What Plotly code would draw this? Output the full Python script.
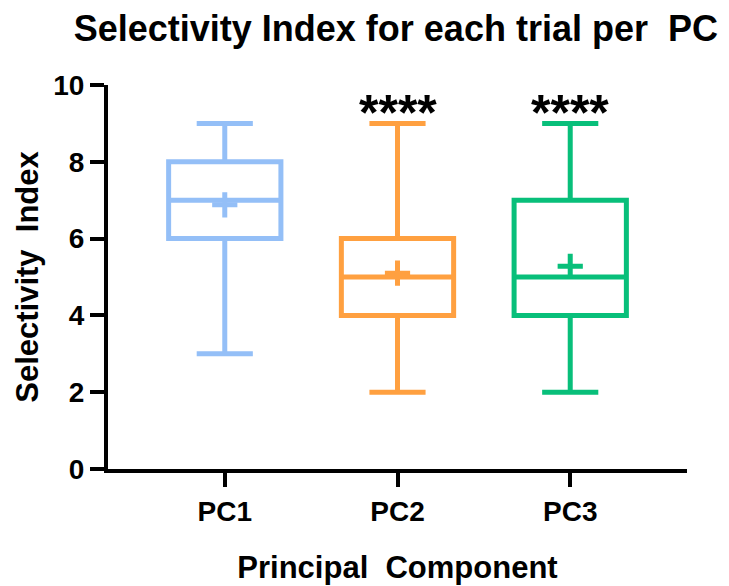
import plotly.graph_objects as go

# Summary statistics of the selectivity index per principal component
components = ["PC1", "PC2", "PC3"]
minimum = [3, 2, 2]
q1 = [6, 4, 4]
median = [7, 5, 5]
q3 = [8, 6, 7]
maximum = [9, 9, 9]
mean = [6.88, 5.1, 5.28]
significance = ["", "****", "****"]
colors = ["#94BFF7", "#FFA040", "#08BF7A"]

FONT = "Liberation Sans, Arial, sans-serif"

fig = go.Figure()

for i, name in enumerate(components):
    fig.add_trace(go.Box(
        x=[name],
        q1=[q1[i]], median=[median[i]], q3=[q3[i]],
        lowerfence=[minimum[i]], upperfence=[maximum[i]],
        width=0.65,
        whiskerwidth=0.5,
        fillcolor="rgba(255,255,255,0)",
        line=dict(color=colors[i], width=5),
        showlegend=False,
        hoverinfo="skip",
    ))
    fig.add_trace(go.Scatter(
        x=[name], y=[mean[i]],
        mode="markers",
        marker=dict(symbol="cross-thin", size=18,
                    line=dict(color=colors[i], width=5)),
        showlegend=False,
        hoverinfo="skip",
    ))
    if significance[i]:
        fig.add_annotation(
            x=name, y=maximum[i], yanchor="middle", yshift=10,
            text=significance[i], showarrow=False,
            font=dict(family=FONT, size=50, color="black", weight="bold"),
        )

fig.update_layout(
    width=729, height=586, autosize=False,
    margin=dict(l=108, r=42, t=85, b=117),
    plot_bgcolor="white", paper_bgcolor="white",
    boxmode="overlay",
    title=dict(text="Selectivity Index for each trial per  PC",
               x=0.543, xanchor="center", y=0.952, yanchor="middle",
               font=dict(family=FONT, size=36, color="black", weight="bold")),
    font=dict(family=FONT, color="black"),
)

fig.update_xaxes(
    type="category", categoryorder="array", categoryarray=components,
    range=[-0.676, 2.676], automargin=False,
    showline=True, linecolor="black", linewidth=4,
    ticks="outside", ticklen=14, tickwidth=4, tickcolor="black",
    tickfont=dict(family=FONT, size=28, color="black", weight="bold"),
    showgrid=False, zeroline=False,
    title=dict(text="Principal  Component", standoff=32,
               font=dict(family=FONT, size=31, color="black", weight="bold")),
)

fig.update_yaxes(
    range=[0, 10], tickvals=[0, 2, 4, 6, 8, 10], automargin=False,
    showline=True, linecolor="black", linewidth=4,
    ticks="outside", ticklen=14, tickwidth=4, tickcolor="black",
    tickfont=dict(family=FONT, size=28, color="black", weight="bold"),
    showgrid=False, zeroline=False,
    title=dict(text="Selectivity  Index", standoff=6,
               font=dict(family=FONT, size=31, color="black", weight="bold")),
)

fig.write_html("out.html")
